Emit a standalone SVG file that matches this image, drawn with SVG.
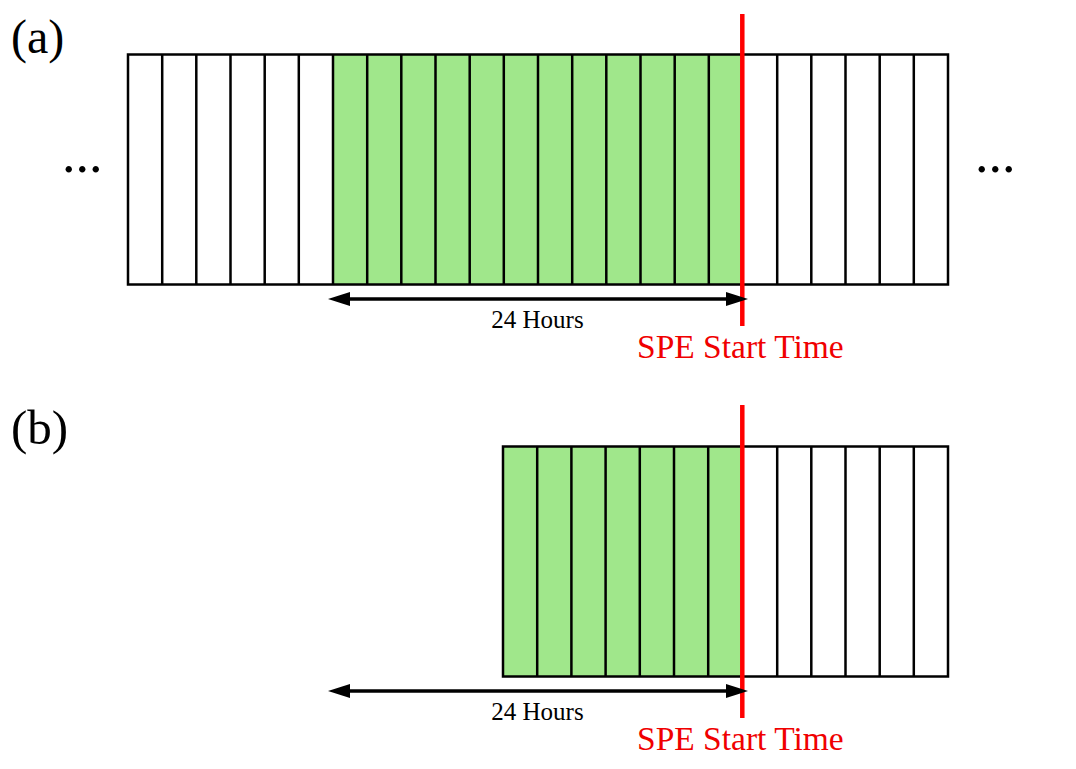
<svg xmlns="http://www.w3.org/2000/svg" width="1076" height="769" viewBox="0 0 1076 769">
<style>
.lbl{font-family:"Liberation Serif","Times New Roman",serif;fill:#000}
.red{font-family:"Liberation Serif","Times New Roman",serif;fill:#f00000}
.grid{stroke:#000;stroke-width:2.5;fill:none}
.green{fill:#a0e78b}
.spe{stroke:#ff0000;stroke-width:4.5}
.arr{stroke:#000;stroke-width:3.5;fill:none}
</style>
<defs>
<marker id="ah" viewBox="0 0 22 14" markerWidth="22" markerHeight="14" markerUnits="userSpaceOnUse" refX="12" refY="7" orient="auto-start-reverse">
<path d="M0,0 L22,7 L0,14 Z" fill="#000"/>
</marker>
</defs>
<rect width="1076" height="769" fill="#fff"/>
<g id="panel-a">
<text class="lbl" x="11" y="53" font-size="48">(a)</text>
<text class="lbl" x="62" y="172" font-size="54">...</text>
<text class="lbl" x="975" y="172" font-size="54">...</text>
<rect class="green" x="333" y="54.5" width="409" height="230"/>
<rect class="grid" x="128" y="54.5" width="820" height="230"/>
<path class="grid" d="M162.2,54.5V284.5M196.3,54.5V284.5M230.5,54.5V284.5M264.7,54.5V284.5M298.8,54.5V284.5M333,54.5V284.5M367.2,54.5V284.5M401.3,54.5V284.5M435.5,54.5V284.5M469.7,54.5V284.5M503.8,54.5V284.5M538,54.5V284.5M572.2,54.5V284.5M606.3,54.5V284.5M640.5,54.5V284.5M674.7,54.5V284.5M708.8,54.5V284.5M777.2,54.5V284.5M811.3,54.5V284.5M845.5,54.5V284.5M879.7,54.5V284.5M913.8,54.5V284.5"/>
<line class="spe" x1="742.3" y1="14" x2="742.3" y2="326"/>
<text class="lbl" x="537.5" y="328" font-size="25" text-anchor="middle">24 Hours</text>
<text class="red" x="637" y="358" font-size="33.5">SPE Start Time</text>
</g>
<g id="panel-b">
<text class="lbl" x="11" y="444" font-size="49">(b)</text>
<rect class="green" x="503" y="446.5" width="239" height="230"/>
<rect class="grid" x="503" y="446.5" width="445" height="230"/>
<path class="grid" d="M537.2,446.5V676.5M571.4,446.5V676.5M605.6,446.5V676.5M639.8,446.5V676.5M674,446.5V676.5M708.2,446.5V676.5M777.2,446.5V676.5M811.3,446.5V676.5M845.5,446.5V676.5M879.7,446.5V676.5M913.8,446.5V676.5"/>
<line class="spe" x1="742.3" y1="405" x2="742.3" y2="718"/>
<text class="lbl" x="537.5" y="720" font-size="25" text-anchor="middle">24 Hours</text>
<text class="red" x="637" y="750" font-size="33.5">SPE Start Time</text>
</g>
<g id="connectors">
<line class="arr" x1="338" y1="299" x2="738" y2="299" marker-start="url(#ah)" marker-end="url(#ah)"/>
<line class="arr" x1="338" y1="691" x2="738" y2="691" marker-start="url(#ah)" marker-end="url(#ah)"/>
</g>
</svg>
